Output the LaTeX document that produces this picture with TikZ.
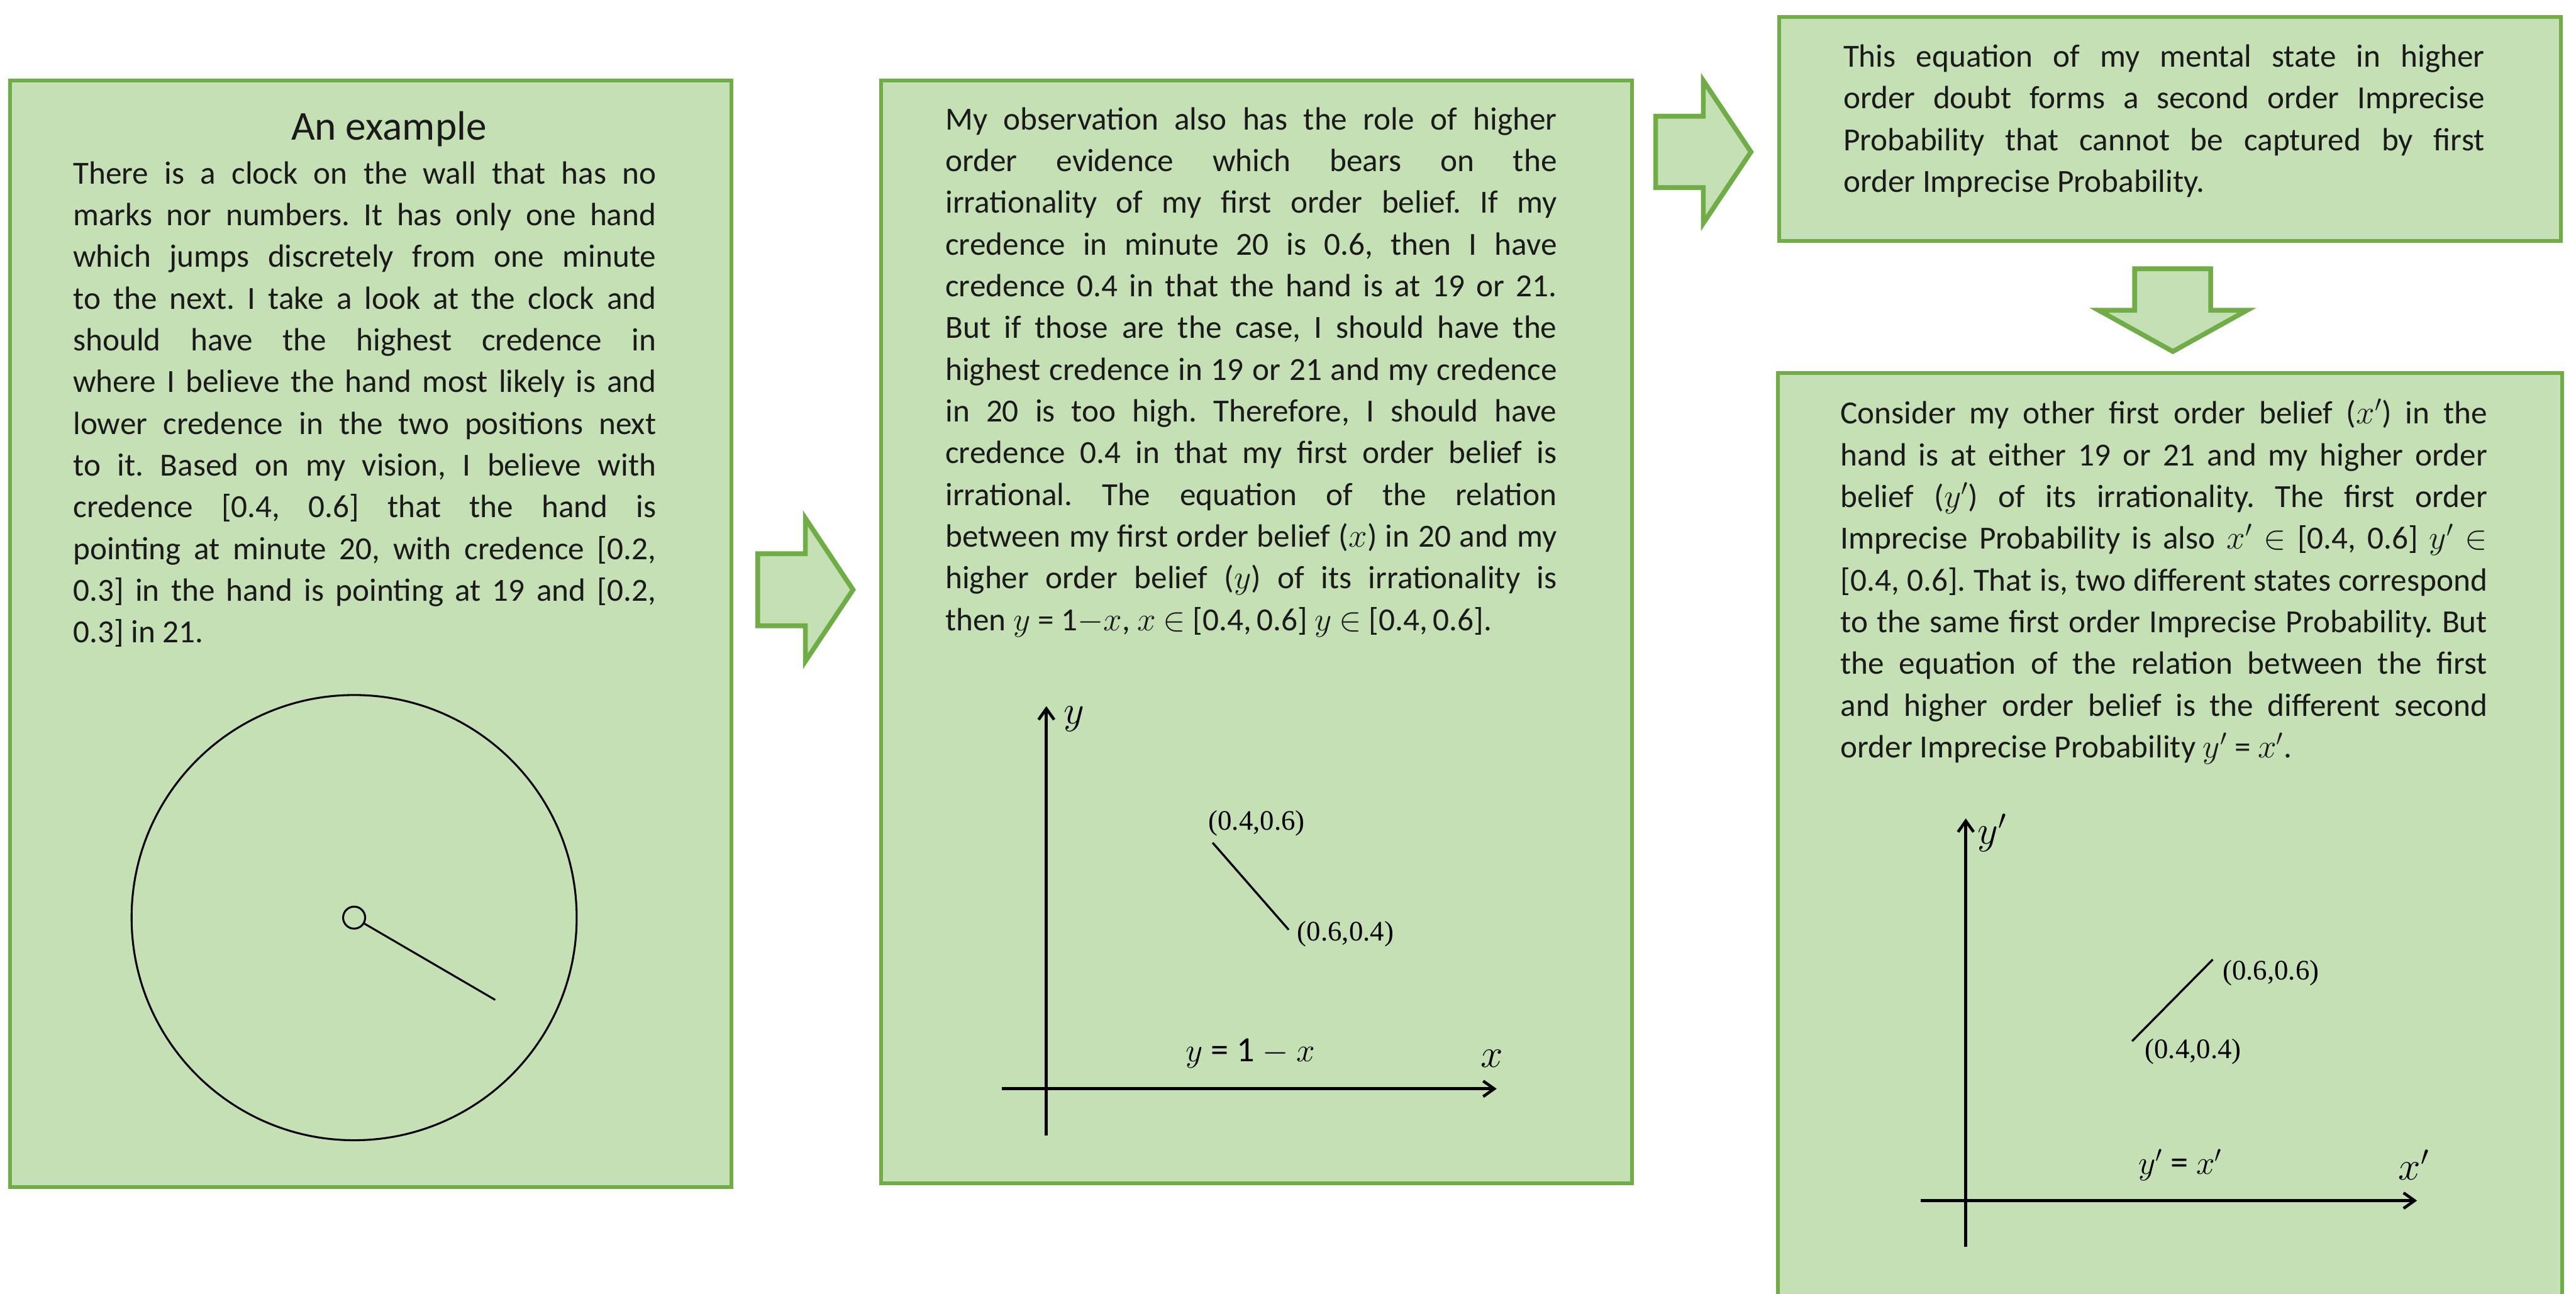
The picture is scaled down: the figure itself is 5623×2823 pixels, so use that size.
\documentclass[tikz,border=0pt]{standalone}
\usepackage{fontspec}
\setmainfont{Carlito}
\newfontfamily\plotfont{Liberation Serif}
\usetikzlibrary{arrows.meta,positioning}

\definecolor{boxfill}{HTML}{C5E0B4}
\definecolor{boxline}{HTML}{70AD47}
\definecolor{ink}{HTML}{1A1A1A}
\newcommand{\bodysize}{\fontsize{20pt}{25.9pt}\selectfont\frenchspacing\spaceskip=.226em plus .6em minus .12em\relax}

\begin{document}
\begin{tikzpicture}[
  x={(0.01cm,0cm)},y={(0cm,-0.01cm)},
  panel/.style={draw=boxline,fill=boxfill,line width=2.3pt,inner sep=0pt},
  para/.style={anchor=base west,inner sep=0pt,align=justify,text=ink,font=\bodysize},
  fat/.style={draw=boxline,fill=boxfill,line width=3pt,line join=miter},
  axis/.style={line width=1.8pt,-{Straight Barb[length=2.4mm,width=3.4mm]}},
  seg/.style={line width=1.3pt},
  coord/.style={font=\plotfont\fontsize{17.5pt}{19pt}\selectfont,inner sep=0pt},
  var/.style={font=\fontsize{23pt}{26pt}\selectfont,inner sep=0pt},
  eq/.style={font=\fontsize{22pt}{26pt}\selectfont,inner sep=0pt}
]
  \path[fill=white,use as bounding box] (0,0) rectangle (5623,2823);

  \node[panel,minimum width=15.74cm,minimum height=24.13cm] (example) at (809,1383.5) {};
  \node[panel,minimum width=16.38cm,minimum height=24.04cm] (evidence) at (2743,1379) {};
  \node[panel,minimum width=17.06cm,minimum height=4.89cm] (doubt) at (4737,281.5) {};
  \node[panel,minimum width=17.11cm,minimum height=20.85cm] (other) at (4736.5,1857.5) {};

  \draw[fat] (1654,1208.5) -- (1758,1208.5) -- (1758,1131) -- (1862,1287)
    -- (1758,1443) -- (1758,1365.5) -- (1654,1365.5) -- cycle;
  \draw[fat] (3614,253.5) -- (3718,253.5) -- (3718,176) -- (3822,331.5)
    -- (3718,487) -- (3718,409.5) -- (3614,409.5) -- cycle;
  \draw[fat] (4659.5,586.5) -- (4825.5,586.5) -- (4825.5,677) -- (4905,677)
    -- (4743,767) -- (4581,677) -- (4659.5,677) -- cycle;

  \node[anchor=base,inner sep=0pt,text=ink,font=\fontsize{25.5pt}{30pt}\selectfont] (title) at (849,306) {An example};
  \node[para,text width=12.72cm] (story) at (159,401) {There is a clock on the wall that has no\linebreak{}
    marks nor numbers. It has only one hand\linebreak{}
    which jumps discretely from one minute\linebreak{}
    to the next. I take a look at the clock and\linebreak{}
    should have the highest credence in\linebreak{}
    where I believe the hand most likely is and\linebreak{}
    lower credence in the two positions next\linebreak{}
    to it. Based on my vision, I believe with\linebreak{}
    credence [0.4, 0.6] that the hand is\linebreak{}
    pointing at minute 20, with credence [0.2,\linebreak{}
    0.3] in the hand is pointing at 19 and [0.2,\linebreak{}
    0.3] in 21.};

  \node[para,text width=13.34cm] (role) at (2063,283) {My observation also has the role of higher\linebreak{}
    order evidence which bears on the\linebreak{}
    irrationality of my first order belief. If my\linebreak{}
    credence in minute 20 is 0.6, then I have\linebreak{}
    credence 0.4 in that the hand is at 19 or 21.\linebreak{}
    But if those are the case, I should have the\linebreak{}
    highest credence in 19 or 21 and my credence\linebreak{}
    in 20 is too high. Therefore, I should have\linebreak{}
    credence 0.4 in that my first order belief is\linebreak{}
    irrational. The equation of the relation\linebreak{}
    between my first order belief ($x$) in 20 and my\linebreak{}
    higher order belief ($y$) of its irrationality is\linebreak{}
    then $y$ = 1$-$$x$, $x$ $\in$ [0.4,\,0.6] $y$ $\in$ [0.4,\,0.6].};

  \node[para,text width=13.99cm] (second) at (4023,146) {This equation of my mental state in higher\linebreak{}
    order doubt forms a second order Imprecise\linebreak{}
    Probability that cannot be captured by first\linebreak{}
    order Imprecise Probability.};

  \node[para,text width=14.11cm] (consider) at (4017,925) {Consider my other first order belief ($x'$) in the\linebreak{}
    hand is at either 19 or 21 and my higher order\linebreak{}
    belief ($y'$) of its irrationality. The first order\linebreak{}
    Imprecise Probability is also $x'$ $\in$ [0.4, 0.6] $y'$ $\in$\linebreak{}
    [0.4, 0.6]. That is, two different states correspond\linebreak{}
    to the same first order Imprecise Probability. But\linebreak{}
    the equation of the relation between the first\linebreak{}
    and higher order belief is the different second\linebreak{}
    order Imprecise Probability $y'$ = $x'$.};

  \node[draw,circle,line width=1.2pt,minimum size=9.71cm,inner sep=0pt] (dial) at (773,2002.5) {};
  \node[draw,circle,line width=1.2pt,minimum size=0.48cm,inner sep=0pt] (pin) at (dial.center) {};
  \coordinate (handtip) at (1081,2182);
  \draw[line width=1.2pt] (pin) -- (handtip);

  \coordinate (xa1) at (2187,2376);
  \coordinate (xb1) at (3267,2376);
  \coordinate (ya1) at (2284,2478);
  \coordinate (yb1) at (2284,1541);
  \draw[axis] (xa1) -- (xb1);
  \draw[axis] (ya1) -- (yb1);
  \node[var] (ylab1) at (2345,1569) {$y$};
  \node[var] (xlab1) at (3257,2310) {$x$};
  \coordinate (hi1) at (2647,1839);
  \coordinate (lo1) at (2813,2029);
  \draw[seg] (hi1) -- (lo1);
  \node[coord] (hilab1) at (2743,1797) {(0.4,0.6)};
  \node[coord] (lolab1) at (2937,2038) {(0.6,0.4)};
  \node[eq] (rel1) at (2730,2299) {$y$ = 1 $-$ $x$};

  \coordinate (xa2) at (4193,2620);
  \coordinate (xb2) at (5276,2620);
  \coordinate (ya2) at (4291,2721);
  \coordinate (yb2) at (4291,1786);
  \draw[axis] (xa2) -- (xb2);
  \draw[axis] (ya2) -- (yb2);
  \node[var] (ylab2) at (4349,1818) {$y'$};
  \node[var] (xlab2) at (5269,2542) {$x'$};
  \coordinate (lo2) at (4654,2272);
  \coordinate (hi2) at (4830,2094);
  \draw[seg] (lo2) -- (hi2);
  \node[coord] (hilab2) at (4957,2123) {(0.6,0.6)};
  \node[coord] (lolab2) at (4787,2295) {(0.4,0.4)};
  \node[eq] (rel2) at (4759,2542) {$y'$ = $x'$};
\end{tikzpicture}
\end{document}
